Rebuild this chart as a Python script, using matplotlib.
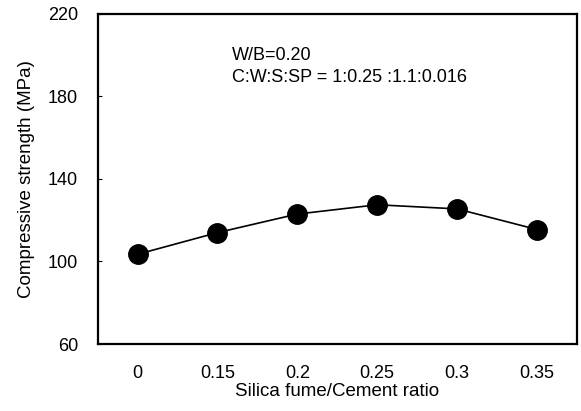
import numpy as np
import matplotlib.pyplot as plt

plt.rcParams['font.family'] = ['Liberation Sans', 'DejaVu Sans']

# Silica fume / cement ratio (shown as equally spaced categories)
sf_ratio = ["0", "0.15", "0.2", "0.25", "0.3", "0.35"]
strength = [103.5, 114, 123, 127.5, 125.5, 115.5]

x = np.arange(len(sf_ratio))

fig = plt.figure(figsize=(5.81, 4.11), dpi=100)
ax = fig.add_axes([0.168, 0.163, 0.825, 0.803])

ax.plot(x, strength, color="black", lw=1.2, marker="o", markersize=14)

ax.set_xlim(-0.5, 5.5)
ax.set_ylim(60, 220)
ax.set_xticks(x)
ax.set_xticklabels(sf_ratio)
ax.set_yticks([60, 100, 140, 180, 220])
ax.tick_params(axis="x", length=0, labelsize=13, pad=15)
ax.tick_params(axis="y", direction="in", length=3, labelsize=13, pad=14)
for s in ax.spines.values():
    s.set_linewidth(1.6)

ax.set_xlabel("Silica fume/Cement ratio", fontsize=13.5, labelpad=1)
ax.set_ylabel("Compressive strength (MPa)", fontsize=13.5, labelpad=9)

ax.text(0.28, 0.90, "W/B=0.20\nC:W:S:SP = 1:0.25 :1.1:0.016",
        transform=ax.transAxes, fontsize=13, va="top", linespacing=1.4)

fig.savefig("out.png", dpi=100)
